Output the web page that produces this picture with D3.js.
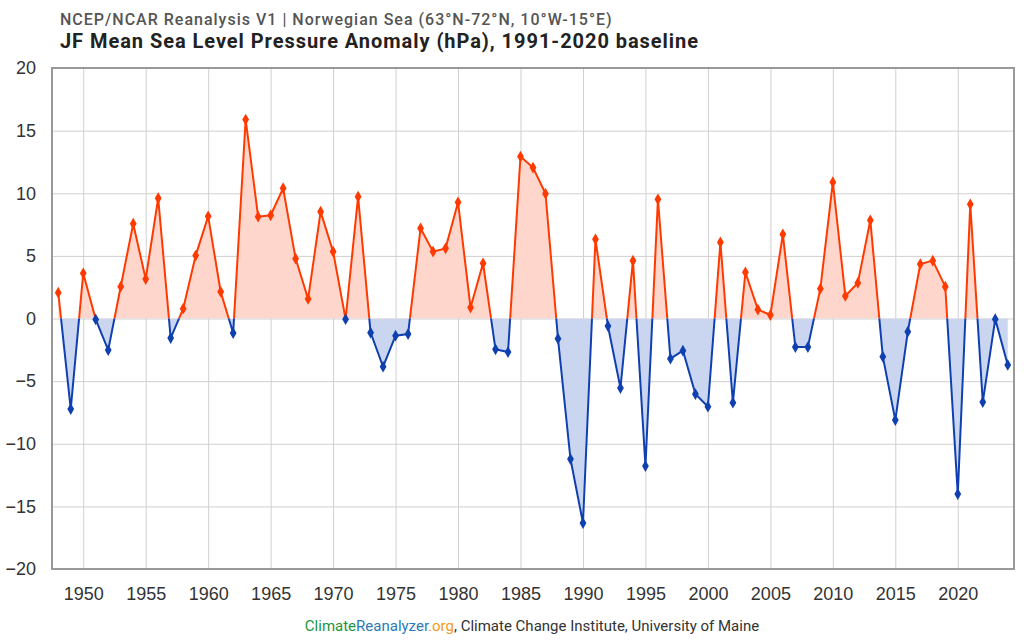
<!DOCTYPE html>
<html>
<head>
<meta charset="utf-8">
<script src="https://d3js.org/d3.v7.min.js"></script>
<style>
  body { margin: 0; background: #fff; font-family: Roboto, "Noto Sans", sans-serif; }
  .grid line { stroke: #d0d0d0; stroke-width: 1; }
  .grid path { display: none; }
  .axis text { font-size: 18px; fill: #333; }
  .axis path, .axis line { display: none; }
</style>
</head>
<body>
<script>
// JF mean sea level pressure anomaly (hPa), Norwegian Sea
var years = d3.range(1948, 2025);
var anomaly = [
   2.06, -7.23,  3.61, -0.07, -2.52,  2.54,  7.57,  3.15,  9.60, -1.56,  // 1948-1957
   0.78,  5.02,  8.16,  2.14, -1.16, 15.88,  8.13,  8.24, 10.40,  4.78,  // 1958-1967
   1.56,  8.53,  5.34, -0.05,  9.73, -1.13, -3.85, -1.37, -1.24,  7.20,  // 1968-1977
   5.34,  5.60,  9.28,  0.87,  4.41, -2.46, -2.68, 12.93, 12.05,  9.97,  // 1978-1987
  -1.61,-11.22,-16.33,  6.32, -0.60, -5.55,  4.62,-11.78,  9.52, -3.21,  // 1988-1997
  -2.57, -6.03, -7.04,  6.08, -6.72,  3.69,  0.71,  0.28,  6.72, -2.28,  // 1998-2007
  -2.28,  2.38, 10.88,  1.80,  2.84,  7.84, -3.05, -8.11, -1.05,  4.35,  // 2008-2017
   4.62,  2.54,-14.02,  9.12, -6.67, -0.05, -3.71                        // 2018-2024
];
var xTicks = d3.range(1950, 2021, 5);
var yTicks = d3.range(-20, 21, 5);

var data = years.map(function(y, i) { return { year: y, value: anomaly[i] }; });

var margin = { top: 68, right: 10, bottom: 71, left: 52 };
var width  = 1024 - margin.left - margin.right;
var height = 640 - margin.top - margin.bottom;

var x = d3.scaleLinear().domain([1947.5, 2024.5]).range([0, width]);
var y = d3.scaleLinear().domain([-20, 20]).range([height, 0]);

var svg = d3.select("body").append("svg")
    .attr("width", 1024)
    .attr("height", 640);

// titles
svg.append("text")
    .attr("x", 60).attr("y", 25)
    .style("font-size", "16px").style("font-weight", "500").style("fill", "#555")
    .style("letter-spacing", "1px")
    .text("NCEP/NCAR Reanalysis V1 | Norwegian Sea (63°N-72°N, 10°W-15°E)");
svg.append("text")
    .attr("x", 60).attr("y", 48)
    .style("font-size", "20px").style("font-weight", "700").style("fill", "#222")
    .style("letter-spacing", "0.95px")
    .text("JF Mean Sea Level Pressure Anomaly (hPa), 1991-2020 baseline");

var g = svg.append("g")
    .attr("transform", "translate(" + margin.left + "," + margin.top + ")");

// grid lines
g.append("g").attr("class", "grid")
    .attr("transform", "translate(0," + height + ")")
    .call(d3.axisBottom(x).tickValues(xTicks).tickFormat("").tickSize(-height));
g.append("g").attr("class", "grid")
    .call(d3.axisLeft(y).tickValues(yTicks).tickFormat("").tickSize(-width));

// clip regions above / below zero
var defs = svg.append("defs");
defs.append("clipPath").attr("id", "above")
  .append("rect").attr("x", 0).attr("y", 0).attr("width", width).attr("height", y(0));
defs.append("clipPath").attr("id", "below")
  .append("rect").attr("x", 0).attr("y", y(0)).attr("width", width).attr("height", height - y(0));

var area = d3.area()
    .x(function(d) { return x(d.year); })
    .y0(y(0))
    .y1(function(d) { return y(d.value); });
var line = d3.line()
    .x(function(d) { return x(d.year); })
    .y(function(d) { return y(d.value); });

var sides = [
  { clip: "above", fill: "#ffd6cb", stroke: "#ff3a00" },
  { clip: "below", fill: "#cad6f0", stroke: "#1040b0" }
];
sides.forEach(function(s) {
  var sg = g.append("g").attr("clip-path", "url(#" + s.clip + ")");
  sg.append("path").datum(data).attr("d", area).attr("fill", s.fill);
  sg.append("path").datum(data).attr("d", line)
    .attr("fill", "none").attr("stroke", s.stroke).attr("stroke-width", 2);
});

// diamond markers
var diamond = d3.symbol().type(d3.symbolDiamond).size(40);
g.append("g").selectAll("path")
    .data(data).enter().append("path")
    .attr("transform", function(d) { return "translate(" + x(d.year) + "," + y(d.value) + ")"; })
    .attr("d", diamond)
    .attr("fill", function(d) { return d.value >= 0 ? "#ff3a00" : "#1040b0"; });

// frame
g.append("rect")
    .attr("x", 0).attr("y", 0).attr("width", width).attr("height", height)
    .attr("fill", "none").attr("stroke", "#999").attr("stroke-width", 2);

// axes labels
g.append("g").attr("class", "axis")
    .attr("transform", "translate(0," + height + ")")
    .call(d3.axisBottom(x).tickValues(xTicks).tickFormat(d3.format("d")).tickSize(0).tickPadding(18));
g.append("g").attr("class", "axis")
    .call(d3.axisLeft(y).tickValues(yTicks).tickSize(0).tickPadding(16));

// footer
var foot = svg.append("text")
    .attr("x", 532).attr("y", 631)
    .attr("text-anchor", "middle")
    .style("font-size", "15px").style("fill", "#333");
foot.append("tspan").style("fill", "#1a9641").text("Climate");
foot.append("tspan").style("fill", "#2b7bba").text("Reanalyzer");
foot.append("tspan").style("fill", "#f39a1e").text(".org");
foot.append("tspan").text(", Climate Change Institute, University of Maine");
</script>
</body>
</html>
